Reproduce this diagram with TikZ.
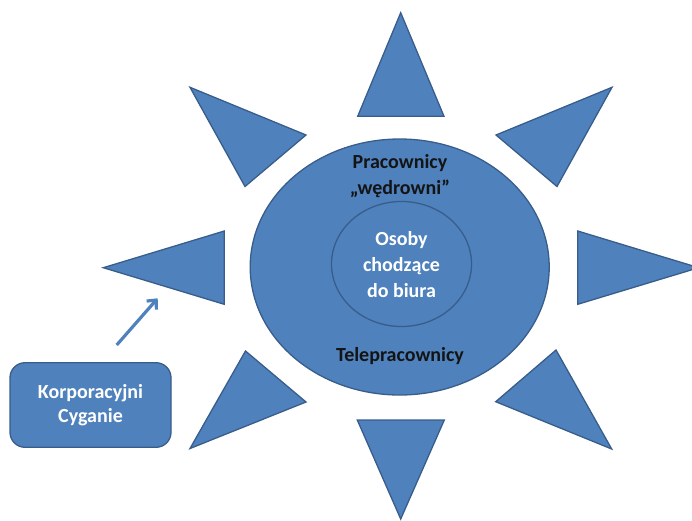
\documentclass[tikz,border=0pt]{standalone}
\usepackage{fontspec}
\setmainfont{Carlito}[BoldFont={Carlito Bold},UprightFont={Carlito}]
\usetikzlibrary{shapes.geometric,arrows.meta}
\definecolor{ofill}{HTML}{4F81BD}
\definecolor{oline}{HTML}{385D8A}
\definecolor{dtext}{HTML}{141414}
\tikzset{
  ray/.style={fill=ofill,draw=oline,line width=1.3pt,line join=miter},
  blob/.style={ellipse,fill=ofill,draw=oline,line width=1.3pt,inner sep=0pt},
  lbl/.style={align=center,font=\bfseries\fontsize{20}{26}\selectfont,inner sep=0pt},
}
\begin{document}
\begin{tikzpicture}[x=1pt,y=-1pt]
\useasboundingbox (0,0) rectangle (692,520);
\clip (0,0) rectangle (692,520);
% rays
\draw[ray] (400.7,12.7) -- (357.7,116.3) -- (444,116.3) -- cycle;
\draw[ray] (400.7,519) -- (357.3,420) -- (444.3,420) -- cycle;
\draw[ray] (103.3,267.7) -- (224.3,231) -- (224.3,304.3) -- cycle;
\draw[ray] (698.7,267.7) -- (577.7,231) -- (577.7,304.3) -- cycle;
\draw[ray] (190,87.3) -- (306,135) -- (245,186.5) -- cycle;
\draw[ray] (612,87.3) -- (496,135) -- (557,186.5) -- cycle;
\draw[ray] (190,448.5) -- (306,402) -- (245.5,351) -- cycle;
\draw[ray] (611.7,449) -- (495.7,401.7) -- (556,350) -- cycle;
% circles
\node[blob,minimum width=299pt,minimum height=256pt] (outer) at (399.7,267) {};
\node[blob,minimum width=140pt,minimum height=125pt] (inner) at (401.5,264) {};
% texts
\node[lbl,text=dtext] (wand) at (400,176) {Pracownicy\\„wędrowni”};
\node[lbl,text=white] (office) at (401.5,265) {Osoby\\chodzące\\do biura};
\node[lbl,text=dtext] (tele) at (400,356) {Telepracownicy};
% box
\node[draw=oline,fill=ofill,line width=1.3pt,rounded corners=15pt,minimum width=161pt,minimum height=84.6pt,text=white,lbl,font=\bfseries\fontsize{20}{24}\selectfont] (gypsy) at (90.5,405) {Korporacyjni\\Cyganie};
% arrow
\coordinate (a1) at (116.7,345);
\coordinate (a2) at (157.7,298.3);
\draw[ofill,line width=3.2pt,-{Straight Barb[length=7pt,width=13pt]}] (a1) -- (a2);
\end{tikzpicture}
\end{document}
